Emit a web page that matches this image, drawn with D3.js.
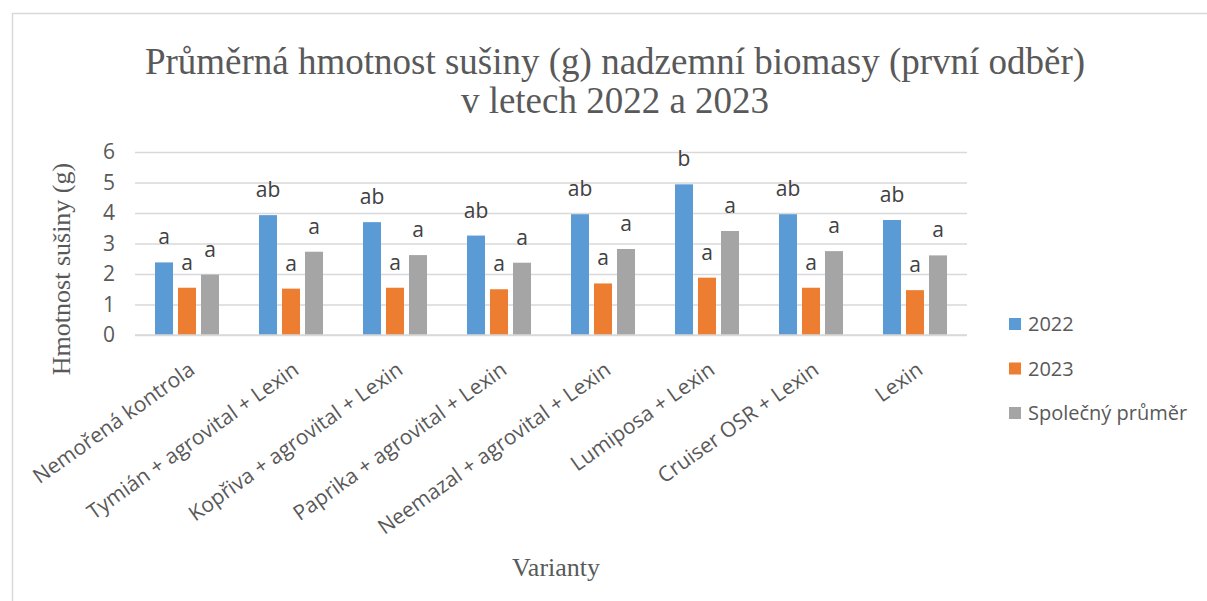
<!DOCTYPE html>
<html>
<head>
<meta charset="utf-8">
<script src="https://cdn.jsdelivr.net/npm/d3@7"></script>
<style>
  body { margin: 0; background: #fff; }
  .tick text { font-family: "Open Sans", sans-serif; }
</style>
</head>
<body>
<div id="chart"></div>
<script>
// data
var categories = [
  "Nemořená kontrola",
  "Tymián + agrovital + Lexin",
  "Kopřiva + agrovital + Lexin",
  "Paprika + agrovital + Lexin",
  "Neemazal + agrovital + Lexin",
  "Lumiposa + Lexin",
  "Cruiser OSR + Lexin",
  "Lexin"
];
var seriesNames = ["2022", "2023", "Společný průměr"];
var values2022 = [2.38, 3.93, 3.70, 3.26, 3.96, 4.94, 3.96, 3.77];
var values2023 = [1.55, 1.52, 1.55, 1.50, 1.69, 1.88, 1.55, 1.47];
var valuesMean = [1.98, 2.73, 2.62, 2.37, 2.82, 3.41, 2.75, 2.61];
var letters2022 = ["a", "ab", "ab", "ab", "ab", "b", "ab", "ab"];
var letters2023 = ["a", "a", "a", "a", "a", "a", "a", "a"];
var lettersMean = ["a", "a", "a", "a", "a", "a", "a", "a"];
var yTicks = [0, 1, 2, 3, 4, 5, 6];

var width = 1207;
var height = 601;
var plot = { left: 135, right: 967, top: 152, bottom: 335 };

var colorScale = d3.scaleOrdinal()
  .domain(seriesNames)
  .range(["#5b9bd5", "#ed7d31", "#a5a5a5"]);

var table = categories.map(function (c, i) {
  return {
    cat: c,
    bars: [
      { s: seriesNames[0], v: values2022[i], l: letters2022[i] },
      { s: seriesNames[1], v: values2023[i], l: letters2023[i] },
      { s: seriesNames[2], v: valuesMean[i], l: lettersMean[i] }
    ]
  };
});

var x0 = d3.scaleBand().domain(categories).range([plot.left, plot.right]).padding(0);
var x1 = d3.scaleBand().domain(seriesNames).range([0, 64]).paddingInner(0.217).paddingOuter(0);
var groupOffset = (x0.bandwidth() - 64) / 2;
var y = d3.scaleLinear().domain([0, 6]).range([plot.bottom, plot.top]);

var svg = d3.select("#chart")
  .append("svg")
  .attr("width", width)
  .attr("height", height);

// frame of the chart object (cut off right and bottom)
svg.append("path")
  .attr("d", "M12.5,610 L12.5,13.5 L1215,13.5")
  .attr("fill", "none")
  .attr("stroke", "#d9d9d9")
  .attr("stroke-width", 1.5);

// title
var title = svg.append("text")
  .attr("x", 615)
  .attr("y", 74)
  .attr("text-anchor", "middle")
  .attr("fill", "#595959")
  .style("font-family", "'Liberation Serif', serif")
  .style("font-size", "37px");
title.append("tspan").attr("x", 615).text("Průměrná hmotnost sušiny (g) nadzemní biomasy (první odběr)");
title.append("tspan").attr("x", 615).attr("dy", 39).text("v letech 2022 a 2023");

// gridlines + y labels
var yAxis = svg.append("g")
  .attr("transform", "translate(" + plot.left + ",0)")
  .call(d3.axisLeft(y).tickValues(yTicks).tickSize(-(plot.right - plot.left)).tickPadding(20).tickFormat(d3.format("d")));
yAxis.select(".domain").remove();
yAxis.selectAll(".tick line").attr("stroke", "#d9d9d9").attr("stroke-width", 1.5);
yAxis.selectAll(".tick text")
  .attr("fill", "#595959")
  .style("font-size", "21px");

// y axis title
svg.append("text")
  .attr("transform", "translate(70,269) rotate(-90)")
  .attr("text-anchor", "middle")
  .attr("fill", "#595959")
  .style("font-family", "'Liberation Serif', serif")
  .style("font-size", "26px")
  .text("Hmotnost sušiny (g)");

// bars
var groups = svg.selectAll(".grp")
  .data(table)
  .enter()
  .append("g")
  .attr("class", "grp")
  .attr("transform", function (d) {
    return "translate(" + (x0(d.cat) + groupOffset) + ",0)";
  });

groups.selectAll("rect")
  .data(function (d) { return d.bars; })
  .enter()
  .append("rect")
  .attr("x", function (d) { return x1(d.s); })
  .attr("width", x1.bandwidth())
  .attr("y", function (d) { return y(d.v); })
  .attr("height", function (d) { return y(0) - y(d.v); })
  .attr("fill", function (d) { return colorScale(d.s); });

// significance letters
groups.selectAll(".lbl")
  .data(function (d) { return d.bars; })
  .enter()
  .append("text")
  .attr("class", "lbl")
  .attr("x", function (d) { return x1(d.s) + x1.bandwidth() / 2; })
  .attr("y", function (d) { return y(d.v) - 18; })
  .attr("text-anchor", "middle")
  .attr("fill", "#404040")
  .style("font-family", "'Open Sans', sans-serif")
  .style("font-size", "21px")
  .text(function (d) { return d.l; });

// baseline
svg.append("line")
  .attr("x1", plot.left).attr("x2", plot.right)
  .attr("y1", y(0)).attr("y2", y(0))
  .attr("stroke", "#d9d9d9").attr("stroke-width", 1.5);

// x category labels (rotated)
svg.selectAll(".xlbl")
  .data(categories)
  .enter()
  .append("text")
  .attr("class", "xlbl")
  .attr("transform", function (d) {
    return "translate(" + (x0(d) + x0.bandwidth() / 2) + "," + (plot.bottom + 25) + ") rotate(-35.5)";
  })
  .attr("dy", "0.75em")
  .attr("text-anchor", "end")
  .attr("fill", "#595959")
  .style("font-family", "'Open Sans', sans-serif")
  .style("font-size", "21px")
  .text(function (d) { return d; });

// x axis title
svg.append("text")
  .attr("x", 556)
  .attr("y", 576)
  .attr("text-anchor", "middle")
  .attr("fill", "#595959")
  .style("font-family", "'Liberation Serif', serif")
  .style("font-size", "26px")
  .text("Varianty");

// legend
var legend = svg.selectAll(".leg")
  .data(seriesNames)
  .enter()
  .append("g")
  .attr("class", "leg")
  .attr("transform", function (d, i) {
    return "translate(1009," + (324 + i * 44.5) + ")";
  });
legend.append("rect")
  .attr("x", 0).attr("y", -6)
  .attr("width", 12).attr("height", 12)
  .attr("fill", function (d) { return colorScale(d); });
legend.append("text")
  .attr("x", 19)
  .attr("y", 7)
  .attr("fill", "#595959")
  .style("font-family", "'Open Sans', sans-serif")
  .style("font-size", "20px")
  .text(function (d) { return d; });
</script>
</body>
</html>
